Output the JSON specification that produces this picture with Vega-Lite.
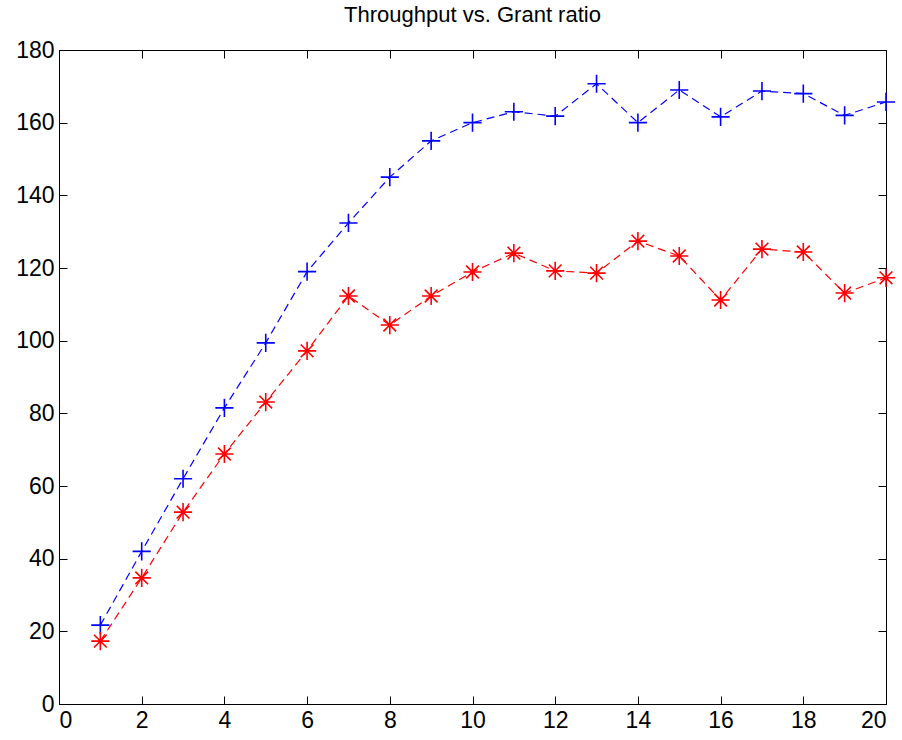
{
  "$schema": "https://vega.github.io/schema/vega-lite/v6.json",
  "autosize": "none",
  "width": 827,
  "height": 654,
  "padding": {"left": 59, "top": 50, "right": 16, "bottom": 36},
  "background": "white",
  "title": {"text": "Throughput vs. Grant ratio", "fontSize": 22, "font": "Liberation Sans Narrow, Liberation Sans", "fontWeight": "normal", "color": "black", "anchor": "middle", "baseline": "bottom", "offset": -10},
  "config": {
    "view": {"stroke": "black", "strokeWidth": 1},
    "axis": {"grid": false, "domainColor": "black", "tickColor": "black", "tickSize": -8, "labelColor": "black", "labelFont": "Liberation Sans Narrow, Liberation Sans", "labelFontSize": 23, "title": null, "labelPadding": 13}
  },
  "data": {"values": [
    {"x": 1, "value": 21.7, "series": "A"}, {"x": 2, "value": 42, "series": "A"}, {"x": 3, "value": 62, "series": "A"}, {"x": 4, "value": 81.5, "series": "A"}, {"x": 5, "value": 99.4, "series": "A"},
    {"x": 6, "value": 119, "series": "A"}, {"x": 7, "value": 132.4, "series": "A"}, {"x": 8, "value": 145, "series": "A"}, {"x": 9, "value": 155, "series": "A"}, {"x": 10, "value": 160, "series": "A"},
    {"x": 11, "value": 163, "series": "A"}, {"x": 12, "value": 161.8, "series": "A"}, {"x": 13, "value": 170.7, "series": "A"}, {"x": 14, "value": 160, "series": "A"}, {"x": 15, "value": 169, "series": "A"},
    {"x": 16, "value": 161.6, "series": "A"}, {"x": 17, "value": 168.7, "series": "A"}, {"x": 18, "value": 168, "series": "A"}, {"x": 19, "value": 162, "series": "A"}, {"x": 20, "value": 165.7, "series": "A"},
    {"x": 1, "value": 17.3, "series": "B"}, {"x": 2, "value": 34.7, "series": "B"}, {"x": 3, "value": 52.8, "series": "B"}, {"x": 4, "value": 68.8, "series": "B"}, {"x": 5, "value": 83.1, "series": "B"},
    {"x": 6, "value": 97.2, "series": "B"}, {"x": 7, "value": 112.3, "series": "B"}, {"x": 8, "value": 104.3, "series": "B"}, {"x": 9, "value": 112.3, "series": "B"}, {"x": 10, "value": 118.9, "series": "B"},
    {"x": 11, "value": 124.1, "series": "B"}, {"x": 12, "value": 119.2, "series": "B"}, {"x": 13, "value": 118.6, "series": "B"}, {"x": 14, "value": 127.4, "series": "B"}, {"x": 15, "value": 123.3, "series": "B"},
    {"x": 16, "value": 111.2, "series": "B"}, {"x": 17, "value": 125.2, "series": "B"}, {"x": 18, "value": 124.4, "series": "B"}, {"x": 19, "value": 113.1, "series": "B"}, {"x": 20, "value": 117.3, "series": "B"}
  ]},
  "layer": [
    {
      "mark": {"type": "line", "strokeDash": [8, 5], "strokeWidth": 1.2},
      "encoding": {
        "x": {"field": "x", "type": "quantitative", "scale": {"domain": [0, 20], "nice": false}, "axis": {"values": [0, 2, 4, 6, 8, 10, 12, 14, 16, 18, 20], "orient": "bottom"}},
        "y": {"field": "value", "type": "quantitative", "scale": {"domain": [0, 180], "nice": false}, "axis": {"values": [0, 20, 40, 60, 80, 100, 120, 140, 160, 180], "orient": "left"}},
        "color": {"field": "series", "type": "nominal", "scale": {"domain": ["A", "B"], "range": ["#0000FF", "#FF0000"]}, "legend": null},
        "detail": {"field": "series"}
      }
    },
    {
      "mark": {"type": "point", "filled": false, "strokeWidth": 1.6, "size": 330, "opacity": 1},
      "encoding": {
        "x": {"field": "x", "type": "quantitative", "axis": null},
        "y": {"field": "value", "type": "quantitative", "axis": null},
        "color": {"field": "series", "type": "nominal", "legend": null},
        "shape": {"field": "series", "type": "nominal", "scale": {"domain": ["A", "B"], "range": ["M-1,0H1M0,-1V1", "M-1,0H1M0,-1V1M-0.7,-0.7L0.7,0.7M-0.7,0.7L0.7,-0.7"]}, "legend": null}
      }
    },
    {
      "mark": {"type": "point", "opacity": 0},
      "encoding": {
        "x": {"field": "x", "type": "quantitative", "axis": {"orient": "top", "labels": false, "values": [0, 2, 4, 6, 8, 10, 12, 14, 16, 18, 20]}},
        "y": {"field": "value", "type": "quantitative", "axis": {"orient": "right", "labels": false, "values": [0, 20, 40, 60, 80, 100, 120, 140, 160, 180]}}
      }
    }
  ],
  "resolve": {"axis": {"x": "independent", "y": "independent"}}
}
